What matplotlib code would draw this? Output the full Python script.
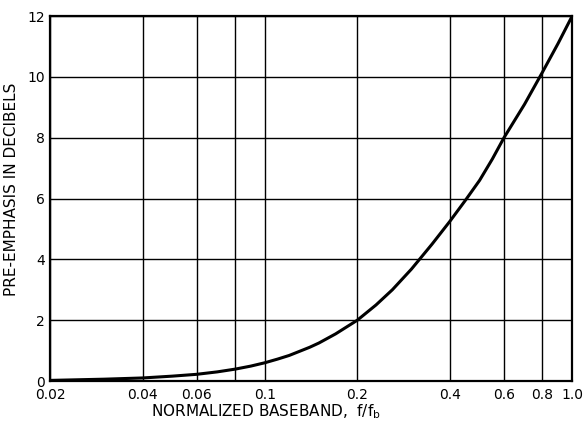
import matplotlib as mpl
mpl.use('Agg')
from matplotlib import pyplot as plt

freq = [0.02, 0.03, 0.04, 0.05, 0.06, 0.07, 0.08, 0.09, 0.1, 0.11, 0.12,
        0.13, 0.14, 0.15, 0.17, 0.2, 0.23, 0.26, 0.3, 0.35, 0.4, 0.45,
        0.5, 0.55, 0.6, 0.7, 0.8, 0.9, 1.0]
emphasis_db = [0.02, 0.06, 0.1, 0.16, 0.22, 0.3, 0.39, 0.49, 0.6, 0.72, 0.84,
               0.98, 1.11, 1.25, 1.55, 2.0, 2.5, 3.0, 3.68, 4.5, 5.25, 5.95,
               6.6, 7.3, 8.0, 9.1, 10.15, 11.1, 12.0]

x_ticks = [0.02, 0.04, 0.06, 0.08, 0.1, 0.2, 0.4, 0.6, 0.8, 1.0]
x_tick_labels = ['0.02', '0.04', '0.06', '', '0.1', '0.2', '0.4', '0.6', '0.8', '1.0']
y_ticks = [0, 2, 4, 6, 8, 10, 12]

plt.rcParams['font.family'] = ['DejaVu Sans']

fig = plt.figure(figsize=(5.85, 4.24), dpi=100)
ax = fig.add_axes([0.0855, 0.1014, 0.8925, 0.8606])

ax.plot(freq, emphasis_db, color='black', linewidth=2.2, solid_capstyle='round')

ax.set_xscale('log')
ax.set_xlim(0.02, 1.0)
ax.set_ylim(0, 12)
ax.set_xticks(x_ticks)
ax.set_xticklabels(x_tick_labels)
ax.xaxis.set_minor_locator(mpl.ticker.NullLocator())
ax.set_yticks(y_ticks)
ax.tick_params(length=0, labelsize=10)
ax.tick_params(axis='x', pad=5)
ax.tick_params(axis='y', pad=3.5)

ax.grid(True, color='black', linewidth=1.0)
for spine in ax.spines.values():
  spine.set_linewidth(1.6)

ax.set_xlabel(r'NORMALIZED BASEBAND,  $\mathregular{f/f_b}$', fontsize=11)
ax.set_ylabel('PRE-EMPHASIS IN DECIBELS', fontsize=11)
ax.xaxis.set_label_coords(0.414, -0.058)
ax.yaxis.set_label_coords(-0.059, 0.526)

plt.savefig('out.png', dpi=100)
